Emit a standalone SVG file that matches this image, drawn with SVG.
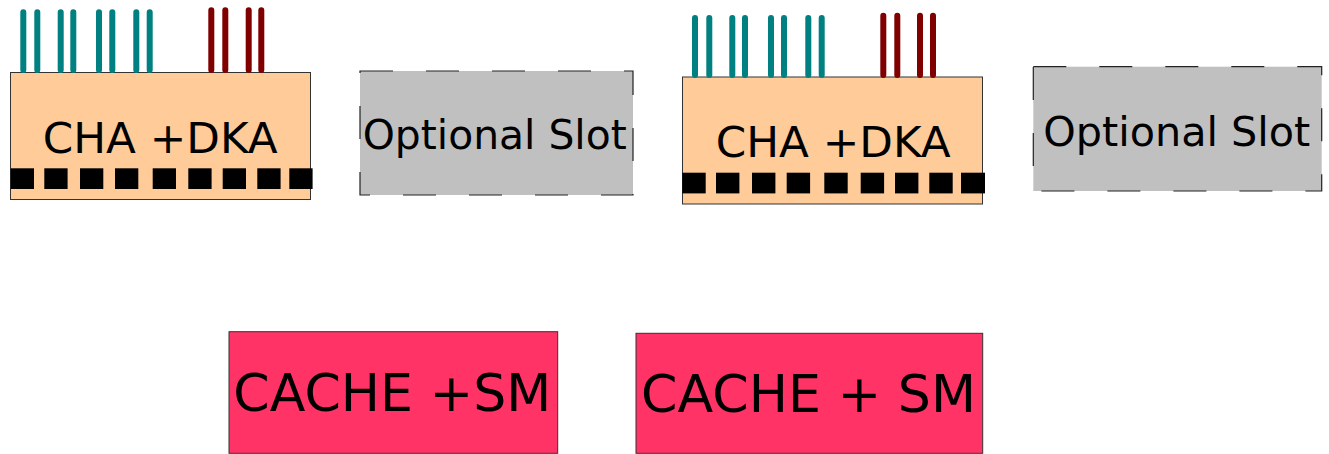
<svg xmlns="http://www.w3.org/2000/svg" width="1329" height="454" viewBox="0 0 1329 454">
<style>
.cha{fill:#FFCC99;stroke:#333;stroke-width:1}
.slot{fill:#C0C0C0;stroke:#222;stroke-width:1.2;stroke-dasharray:33 33}
.cache{fill:#FF3366;stroke:#333;stroke-width:1}
.teal{stroke:#008080;stroke-width:6;stroke-linecap:round;fill:none}
.red{stroke:#800000;stroke-width:6;stroke-linecap:round;fill:none}
.pad{fill:#000}
.t{font-family:"DejaVu Sans",Verdana,sans-serif;fill:#000}
</style>
<rect width="1329" height="454" fill="#fff"/>
<g id="cha1">
<rect class="cha" x="10.5" y="72.5" width="300" height="127"/>
<path class="teal" d="M23.3 12.3V70M37.3 12.3V70M60.7 12.3V70M73.3 12.3V70M99 12.3V70M112.3 12.3V70M136.3 12.3V70M149.7 12.3V70"/>
<path class="red" d="M211.3 10.3V70M225.3 10.3V70M248.7 10.3V70M261.3 10.3V70"/>
<g class="pad">
<rect x="10.7" y="168.3" width="23.3" height="20.7"/>
<rect x="44.3" y="168.3" width="23.3" height="20.7"/>
<rect x="80" y="168.3" width="23.3" height="20.7"/>
<rect x="115" y="168.3" width="23.3" height="20.7"/>
<rect x="152.7" y="168.3" width="23.3" height="20.7"/>
<rect x="188.3" y="168.3" width="23.3" height="20.7"/>
<rect x="222.7" y="168.3" width="23.3" height="20.7"/>
<rect x="257.3" y="168.3" width="23.3" height="20.7"/>
<rect x="289.3" y="168.3" width="23.3" height="20.7"/>
</g>
<text class="t" x="42.7" y="153" font-size="42" textLength="235" lengthAdjust="spacingAndGlyphs">CHA +DKA</text>
</g>
<g id="slot1">
<rect class="slot" x="360" y="71" width="273" height="124"/>
<text class="t" x="362.7" y="149" font-size="41" textLength="264" lengthAdjust="spacingAndGlyphs">Optional Slot</text>
</g>
<g id="cha2">
<rect class="cha" x="682.5" y="77" width="300" height="127"/>
<path class="teal" d="M695 18V75M709.3 18V75M732.3 18V75M745 18V75M771 18V75M784 18V75M808.3 18V75M821.7 18V75"/>
<path class="red" d="M883.3 15.7V75M897.3 15.7V75M920 15.7V75M933 15.7V75"/>
<g class="pad">
<rect x="682.3" y="172.7" width="23.4" height="20.7"/>
<rect x="716" y="172.7" width="23.4" height="20.7"/>
<rect x="752" y="172.7" width="23.4" height="20.7"/>
<rect x="786.7" y="172.7" width="23.4" height="20.7"/>
<rect x="824.3" y="172.7" width="23.4" height="20.7"/>
<rect x="860.7" y="172.7" width="23.4" height="20.7"/>
<rect x="895" y="172.7" width="23.4" height="20.7"/>
<rect x="929.3" y="172.7" width="23.4" height="20.7"/>
<rect x="961" y="172.7" width="24" height="20.7"/>
</g>
<text class="t" x="715.7" y="157" font-size="42" textLength="235" lengthAdjust="spacingAndGlyphs">CHA +DKA</text>
</g>
<g id="slot2">
<rect class="slot" x="1033.3" y="66.7" width="288.4" height="124.3"/>
<text class="t" x="1043.3" y="145.7" font-size="41" textLength="267" lengthAdjust="spacingAndGlyphs">Optional Slot</text>
</g>
<g id="cache1">
<rect class="cache" x="229" y="331.7" width="328.7" height="121.6"/>
<text class="t" x="233.3" y="410.7" font-size="52" textLength="318" lengthAdjust="spacingAndGlyphs">CACHE +SM</text>
</g>
<g id="cache2">
<rect class="cache" x="636" y="333.3" width="346.7" height="120"/>
<text class="t" x="641" y="412.3" font-size="52" textLength="335" lengthAdjust="spacingAndGlyphs">CACHE + SM</text>
</g>
<g id="connectors"/>
</svg>
